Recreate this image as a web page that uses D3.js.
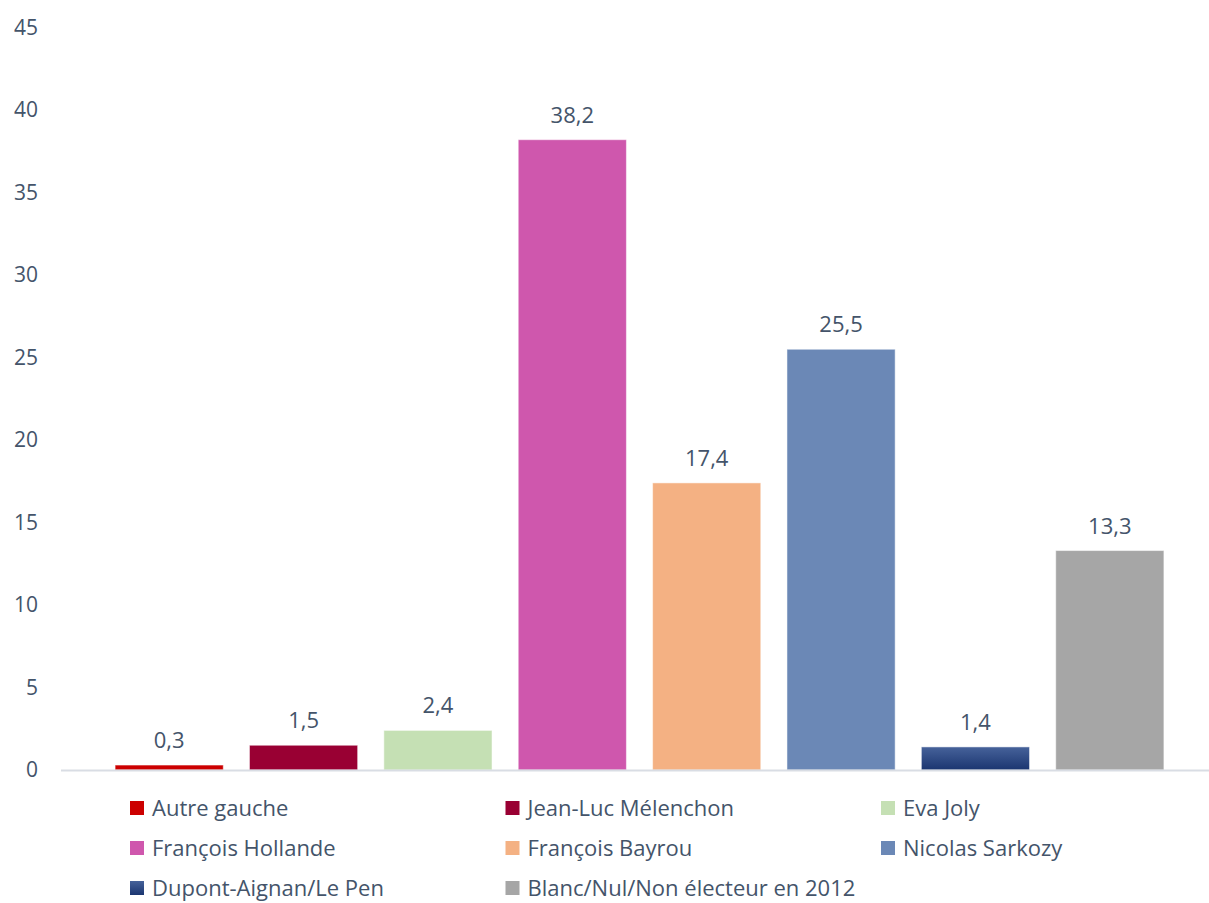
<!DOCTYPE html>
<html>
<head>
<meta charset="utf-8">
<script src="https://cdn.jsdelivr.net/npm/d3@7"></script>
<style>
  html, body { margin: 0; padding: 0; background: #fff; }
  svg { display: block; font-family: "Open Sans", "Noto Sans", sans-serif; }
</style>
</head>
<body>
<div id="chart"></div>
<script>
// data
const candidates = ['Autre gauche', 'Jean-Luc Mélenchon', 'Eva Joly', 'François Hollande',
                    'François Bayrou', 'Nicolas Sarkozy', 'Dupont-Aignan/Le Pen', 'Blanc/Nul/Non électeur en 2012'];
const values = [0.3, 1.5, 2.4, 38.2, 17.4, 25.5, 1.4, 13.3];
const colors = ['#cc0000', '#990033', '#c5e0b4', '#cf57ad', '#f4b183', '#6b88b6', '#1f3a73', '#a6a6a6'];
const yTicks = [0, 5, 10, 15, 20, 25, 30, 35, 40, 45];

const width = 1209, height = 903;
const textColor = '#44546a';

const svg = d3.select('#chart').append('svg')
    .attr('width', width)
    .attr('height', height);

const defs = svg.append('defs');
const grad = defs.append('linearGradient')
    .attr('id', 'navyGrad')
    .attr('x1', 0).attr('y1', 0).attr('x2', 0).attr('y2', 1);
grad.append('stop').attr('offset', '0%').attr('stop-color', '#46629a');
grad.append('stop').attr('offset', '100%').attr('stop-color', '#1b3570');

const y = d3.scaleLinear()
    .domain([0, 45])
    .range([770, 27.5]);

const x = d3.scaleBand()
    .domain(candidates)
    .range([102, 1177])
    .paddingInner(0.195)
    .paddingOuter(0.0975);

// y tick labels (no axis line, no gridlines)
svg.append('g')
   .selectAll('text')
   .data(yTicks)
   .enter()
   .append('text')
     .attr('x', 38)
     .attr('y', d => y(d))
     .attr('dy', '0.35em')
     .attr('text-anchor', 'end')
     .attr('font-size', '21px')
     .attr('fill', textColor)
     .text(d => d);

// bars
svg.append('g')
   .selectAll('rect')
   .data(values)
   .enter()
   .append('rect')
     .attr('x', (d, i) => x(candidates[i]))
     .attr('y', d => y(d))
     .attr('width', x.bandwidth())
     .attr('height', d => y(0) - y(d))
     .attr('fill', (d, i) => i === 6 ? 'url(#navyGrad)' : colors[i])
     .attr('stroke', 'rgba(255,255,255,0.5)')
     .attr('stroke-width', 1);

// value labels
svg.append('g')
   .selectAll('text')
   .data(values)
   .enter()
   .append('text')
     .attr('x', (d, i) => x(candidates[i]) + x.bandwidth() / 2)
     .attr('y', d => y(d) - 17)
     .attr('text-anchor', 'middle')
     .attr('font-size', '22px')
     .attr('fill', textColor)
     .text(d => d3.format('.1f')(d).replace('.', ','));

// baseline
svg.append('line')
   .attr('x1', 61).attr('x2', 1209)
   .attr('y1', y(0) + 0.5).attr('y2', y(0) + 0.5)
   .attr('stroke', '#d9dde4')
   .attr('stroke-width', 2);

// legend, 3 columns
const legend = svg.append('g').attr('class', 'legend');
const item = legend.selectAll('g')
   .data(candidates)
   .enter()
   .append('g')
     .attr('transform', (d, i) => `translate(${130 + (i % 3) * 375.5},${808 + Math.floor(i / 3) * 40})`);

item.append('rect')
    .attr('x', 0)
    .attr('y', -7)
    .attr('width', 14)
    .attr('height', 14)
    .attr('fill', (d, i) => i === 6 ? 'url(#navyGrad)' : colors[i]);

item.append('text')
    .attr('x', 22)
    .attr('y', 0)
    .attr('dy', '0.35em')
    .attr('font-size', '22px')
    .attr('fill', textColor)
    .text(d => d);
</script>
</body>
</html>
